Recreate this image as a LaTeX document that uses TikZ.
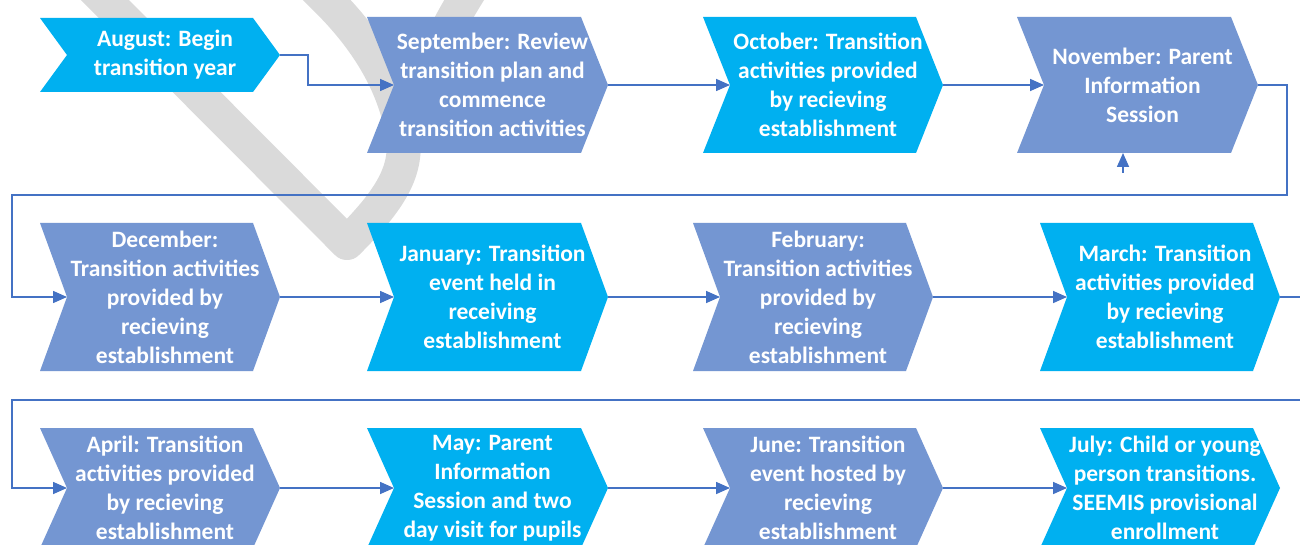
\documentclass[tikz,border=0pt]{standalone}
\usepackage{fontspec}
\setmainfont{Carlito}
\usetikzlibrary{arrows.meta}
\definecolor{sky}{HTML}{00B0F0}
\definecolor{peri}{HTML}{7496D2}
\definecolor{linkblue}{HTML}{4472C4}
\definecolor{wmgrey}{HTML}{DADADA}
\tikzset{
  boxtext/.style={text=white, align=center, font=\fontsize{23.5}{29}\selectfont\bfseries, inner sep=0pt},
  link/.style={draw=linkblue, line width=1.6pt, -{Triangle[length=14pt,width=12pt]}},
  skybox/.style={fill=sky},
  peribox/.style={fill=peri},
  watermark/.style={draw=wmgrey, line width=34pt, line join=round, line cap=butt}
}
% #1 name, #2 left x, #3 right x, #4 top y, #5 bottom y, #6 fill style, #7 text
\newcommand\monthbox[7]{%
  \fill[#6] (#2,#4) -- ({#3-27},#4) -- (#3,{(#4+#5)/2}) -- ({#3-27},#5) -- (#2,#5) -- ({#2+27},{(#4+#5)/2}) -- cycle;
  \coordinate (#1-in) at ({#2+27},{(#4+#5)/2});
  \coordinate (#1-out) at (#3,{(#4+#5)/2});
  \node[boxtext] (#1) at ({(#2+#3)/2+5},{(#4+#5)/2}) {#7};
}
\begin{document}
\begin{tikzpicture}[x=1pt,y=-1pt]
\useasboundingbox (0,0) rectangle (1300,545);
\clip (0,0) rectangle (1300,545);
\fill[white] (0,0) rectangle (1300,545);
% watermark glyph
\draw[watermark] (70,-35) -- (347,243) .. controls (390,200) and (410,170) .. (402,130) .. controls (392,80) and (365,38) .. (327,0) -- (290,-37);
\draw[watermark] (480,-25) .. controls (450,20) and (430,60) .. (415,110);
% row 1
\monthbox{aug}{40}{280}{18}{92}{skybox}{August: Begin\\transition year}
\monthbox{sep}{367}{608}{17}{153}{peribox}{September: Review\\transition plan and\\commence\\transition activities}
\monthbox{oct}{703}{943}{17}{153}{skybox}{October: Transition\\activities provided\\by recieving\\establishment}
\monthbox{nov}{1017}{1258}{17}{153}{peribox}{November: Parent\\Information\\Session}
% row 2
\monthbox{dec}{40}{280}{223}{371}{peribox}{December:\\Transition activities\\provided by\\recieving\\establishment}
\monthbox{jan}{367}{608}{223}{371}{skybox}{January: Transition\\event held in\\receiving\\establishment}
\monthbox{feb}{693}{933}{223}{371}{peribox}{February:\\Transition activities\\provided by\\recieving\\establishment}
\monthbox{mar}{1040}{1280}{223}{371}{skybox}{March: Transition\\activities provided\\by recieving\\establishment}
% row 3
\monthbox{apr}{40}{280}{428}{548}{peribox}{April: Transition\\activities provided\\by recieving\\establishment}
\monthbox{may}{367}{608}{428}{548}{skybox}{May: Parent\\Information\\Session and two\\day visit for pupils}
\monthbox{jun}{703}{943}{428}{548}{peribox}{June: Transition\\event hosted by\\recieving\\establishment}
\monthbox{jul}{1040}{1280}{428}{548}{skybox}{July: Child or young\\person transitions.\\SEEMIS provisional\\enrollment}
% bend points
\coordinate (augbend) at (308,70);
\coordinate (loopA) at (1287,195);
\coordinate (loopB) at (12,195);
\coordinate (loopC) at (1312,400);
\coordinate (loopD) at (12,400);
\coordinate (nov-stem) at (1123,173);
\coordinate (nov-bottom) at (1123,153);
% connectors
\draw[link] (aug-out) -| (augbend) |- (sep-in);
\draw[link] (sep-out) -- (oct-in);
\draw[link] (oct-out) -- (nov-in);
\draw[link] (nov-out) -| (loopA) -- (loopB) |- (dec-in);
\draw[link] (nov-stem) -- (nov-bottom);
\draw[link] (dec-out) -- (jan-in);
\draw[link] (jan-out) -- (feb-in);
\draw[link] (feb-out) -- (mar-in);
\draw[link] (mar-out) -| (loopC) -- (loopD) |- (apr-in);
\draw[link] (apr-out) -- (may-in);
\draw[link] (may-out) -- (jun-in);
\draw[link] (jun-out) -- (jul-in);
\end{tikzpicture}
\end{document}
